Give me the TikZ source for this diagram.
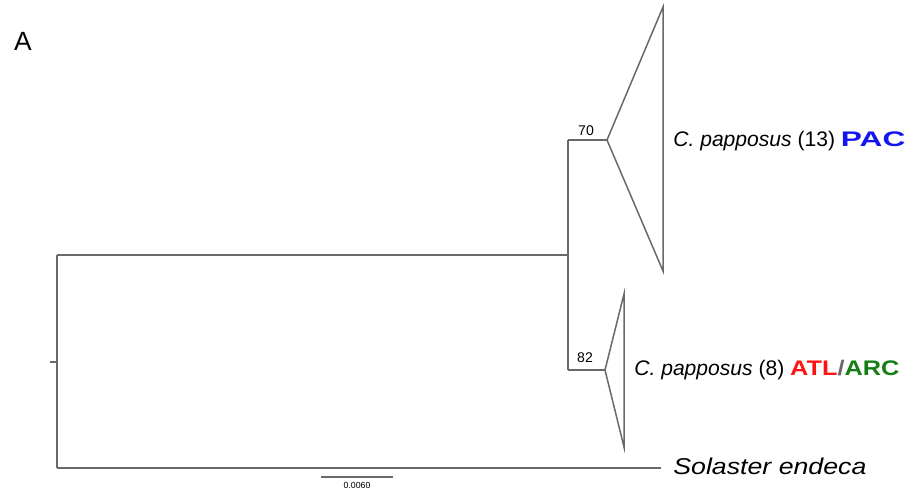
\documentclass[tikz,border=0pt]{standalone}
\usepackage{fontspec}
\setmainfont{Liberation Sans}
\definecolor{treegray}{RGB}{105,105,105}
\definecolor{pacblue}{RGB}{20,20,240}
\definecolor{atlred}{RGB}{250,20,20}
\definecolor{arcgreen}{RGB}{20,125,20}
\tikzset{
  branch/.style={draw=treegray,line width=0.85pt},
  taxon/.style={anchor=west,inner sep=0pt,font=\fontsize{12}{14}\selectfont},
  boot/.style={inner sep=0pt,font=\fontsize{8}{9}\selectfont},
}
\begin{document}
\begin{tikzpicture}[x=0.02cm,y=-0.02cm]
\useasboundingbox (0,0) rectangle (913,493);

%枝の点
\coordinate (stub) at (50,362);
\coordinate (root) at (57,362);
\coordinate (rtop) at (57,255);
\coordinate (rbot) at (57,468);
\coordinate (inner) at (568,255);
\coordinate (itop) at (568,140);
\coordinate (ibot) at (568,370);
\coordinate (pac) at (607,140);
\coordinate (atl) at (605,370);
\coordinate (sol) at (661,468);

%枝
\draw[branch](stub)to(root);
\draw[branch](rtop)to(rbot);
\draw[branch](rtop)to(inner);
\draw[branch](itop)to(ibot);
\draw[branch](itop)to(pac);
\draw[branch](ibot)to(atl);
\draw[branch](rbot)to(sol);

%三角形
\draw[branch,line join=miter](pac)--(663,7)--(663,271)--cycle; %PAC
\draw[branch,line join=miter](atl)--(624,294)--(624,447)--cycle; %ATL/ARC

%ブートストラップ値
\node[boot,anchor=south] (b70) at (586,136) {70};
\node[boot,anchor=south] (b82) at (585,363) {82};

%ラベル
\node[taxon] (lpac) at (673,141) {\textit{C. papposus} (13) \textbf{\color{pacblue}\scalebox{1.5}[1]{PAC}}};
\node[taxon] (latl) at (634,370) {\textit{C. papposus} (8) \scalebox{1.2}[1]{\textbf{\color{atlred}ATL\color{treegray}/\color{arcgreen}ARC}}};
\node[taxon,font=\fontsize{13}{15}\selectfont] (lsol) at (673,466) {\scalebox{1.17}[1]{\textit{Solaster endeca}}};

%スケール
\coordinate (sca) at (321,477);
\coordinate (scb) at (393,477);
\draw[draw=treegray,line width=0.9pt](sca)to(scb);
\node[inner sep=0pt,font=\fontsize{5}{6}\selectfont,anchor=north] (scl) at (357,482) {0.0060};

\node[inner sep=0pt,font=\fontsize{15}{17}\selectfont] (pa) at (23,41) {A};
\end{tikzpicture}
\end{document}
